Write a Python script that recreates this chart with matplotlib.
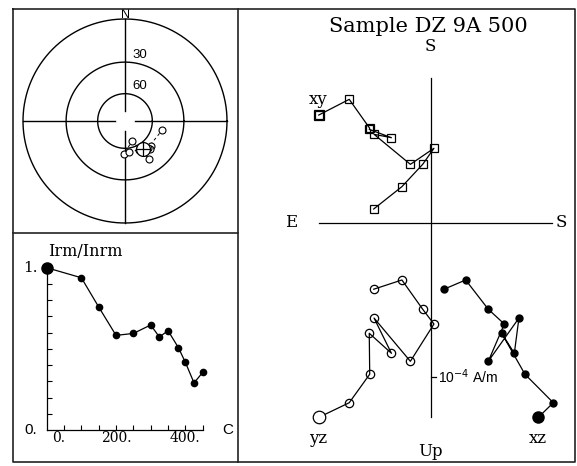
import matplotlib
matplotlib.use("Agg")
import matplotlib.pyplot as plt
import numpy as np
from matplotlib.lines import Line2D
from matplotlib.transforms import offset_copy

# demagnetisation steps (C) and normalised intensity
temps = [0, 100, 150, 200, 250, 300, 325, 350, 380, 400, 425, 450]
irm_ratio = [1.0, 0.938, 0.758, 0.583, 0.595, 0.647, 0.573, 0.612, 0.507, 0.417, 0.290, 0.355]

# vector components of the steps shown in the Zijderveld plot (units of 1e-4 A/m)
y_comp = [-0.727, -0.529, -0.396, -0.399, -0.255, -0.368, -0.132, 0.021, -0.052, -0.187, -0.370]
z_comp = [-1.264, -1.169, -0.984, -0.718, -0.848, -0.619, -0.900, -0.658, -0.562, -0.372, -0.432]
x_comp_xy = [0.699, 0.801, 0.613, 0.606, 0.552, 0.574, 0.379, 0.483, 0.379, 0.234, 0.089]
x_comp_xz = [0.699, 0.796, 0.612, 0.461, 0.543, 0.573, 0.374, 0.478, 0.374, 0.227, 0.086]

sample_name = "DZ 9A 500"
scale_label = "10$^{-4}$ A/m"

W, H = 577, 466
SERIF = ["DejaVu Serif"]
SANS = ["Liberation Sans", "DejaVu Sans"]


def px_axes(fig, x0, y0, x1, y1):
    return fig.add_axes([x0 / W, 1 - y1 / H, (x1 - x0) / W, (y1 - y0) / H])


def fig_line(fig, xs, ys):
    fig.add_artist(Line2D([x / W for x in xs], [1 - y / H for y in ys],
                          transform=fig.transFigure, color="#222222", lw=1.2))


def stereo_xy(dec, inc):
    # equal-angle (Wulff) projection
    r = np.tan(np.radians(90 - np.abs(inc)) / 2)
    return r * np.sin(np.radians(dec)), r * np.cos(np.radians(dec))


fig = plt.figure(figsize=(W / 100, H / 100), dpi=100)

# panel frames
fig_line(fig, [13, 575, 575, 13, 13], [9, 9, 462, 462, 9])
fig_line(fig, [237.5, 237.5], [9, 462])
fig_line(fig, [13, 237.5], [233, 233])

# ---- stereonet ----
ax_s = px_axes(fig, 21, 17, 229, 225)
lim = 104 / 102
ax_s.set_xlim(-lim, lim)
ax_s.set_ylim(-lim, lim)
ax_s.axis("off")
t = np.linspace(0, 2 * np.pi, 400)
for inc_ring in (0, 30, 60):
    r = np.tan(np.radians(90 - inc_ring) / 2)
    ax_s.plot(r * np.cos(t), r * np.sin(t), color="k", lw=1.0)
gap = 0.1
for a, b in ((-1, -gap), (gap, 1)):
    ax_s.plot([a, b], [0, 0], color="k", lw=1.0)
    ax_s.plot([0, 0], [a, b], color="k", lw=1.0)
ax_s.text(0, 1.04, "N", ha="center", va="center", fontsize=9, family=SANS)
ax_s.text(0.07, 0.585, "30", ha="left", va="bottom", fontsize=9.5, family=SANS)
ax_s.text(0.07, 0.28, "60", ha="left", va="bottom", fontsize=9.5, family=SANS)

north = -np.array(x_comp_xz)
east = -np.array(y_comp)
down = np.array(z_comp)
hor = np.hypot(north, east)
dec = np.degrees(np.arctan2(east, north)) % 360
inc = np.degrees(np.arctan2(down, hor))
sx, sy = stereo_xy(dec, inc)
ax_s.plot(sx, sy, color="k", lw=0.7, ls=(0, (3, 3)))
ax_s.plot(sx, sy, "o", ms=5, mfc="white", mec="k", mew=0.8, ls="none")

# Fisher mean direction
vecs = np.column_stack([north, east, down])
units = vecs / np.linalg.norm(vecs, axis=1)[:, None]
mean = units.sum(axis=0)
mean /= np.linalg.norm(mean)
m_dec = np.degrees(np.arctan2(mean[1], mean[0]))
m_inc = np.degrees(np.arcsin(mean[2]))
mx, my = stereo_xy(m_dec, m_inc)
ax_s.plot(mx, my, "o", ms=10, mfc="white", mec="k", mew=0.9, zorder=4)
ax_s.plot(mx, my, "+", ms=10, mew=0.9, color="k", zorder=5)

# ---- intensity decay ----
ax_i = px_axes(fig, 46.7, 267.7, 202.7, 430)
ax_i.set_xlim(0, 450)
ax_i.set_ylim(0, 1)
for side in ("top", "right"):
    ax_i.spines[side].set_visible(False)
for side in ("left", "bottom"):
    ax_i.spines[side].set_linewidth(0.9)
ax_i.set_xticks(np.arange(50, 451, 50))
ax_i.set_yticks(np.arange(0.1, 1.01, 0.1))
ax_i.tick_params(direction="in", length=3.5, width=0.8, labelbottom=False, labelleft=False)
ax_i.plot(temps, irm_ratio, color="k", lw=0.9, marker="o", ms=4.5, clip_on=False)
ax_i.plot(temps[0], irm_ratio[0], "o", color="k", ms=8, clip_on=False)
xlab_tr = ax_i.get_xaxis_transform()
for val, txt in ((0, "0."), (200, "200."), (400, "400.")):
    tr = xlab_tr
    if val == 0:
        tr = offset_copy(xlab_tr, fig=fig, x=12, y=0, units="dots")
    ax_i.text(val, -0.05, txt, transform=tr, ha="center", va="center",
              fontsize=10, family=SERIF)
ylab_tr = ax_i.get_yaxis_transform()
ax_i.text(-0.06, 1.0, "1.", transform=ylab_tr, ha="right", va="center",
          fontsize=11, family=SERIF)
ax_i.text(-0.06, 0.0, "0.", transform=ylab_tr, ha="right", va="center",
          fontsize=11, family=SANS)
ax_i.text(1.16, 0.0, "C", transform=ax_i.transAxes, ha="center", va="center",
          fontsize=11, family=SANS)
ax_i.text(0.01, 1.1, "Irm/Inrm", transform=ax_i.transAxes, ha="left", va="center",
          fontsize=11.5, family=SERIF)

# ---- Zijderveld diagram ----
ORIGIN = (430.7, 222.7)
UNIT = 154.0
x0, y0, x1, y1 = 245, 12, 572, 460
ax_z = px_axes(fig, x0, y0, x1, y1)
ax_z.set_xlim((x0 - ORIGIN[0]) / UNIT, (x1 - ORIGIN[0]) / UNIT)
ax_z.set_ylim((ORIGIN[1] - y1) / UNIT, (ORIGIN[1] - y0) / UNIT)
ax_z.axis("off")
ax_z.plot([-0.725, 0.786], [0, 0], color="k", lw=0.9)
ax_z.plot([0, 0], [0.942, -1.26], color="k", lw=0.9)
ax_z.plot([0, 0.032], [-1, -1], color="k", lw=0.9)
ax_z.text(0.05, -1, scale_label, ha="left", va="center", fontsize=10, family=SANS)

# xy: open squares, yz: open circles, xz: filled circles; first step drawn larger
ax_z.plot(y_comp, x_comp_xy, color="k", lw=0.9, marker="s", ms=6, mfc="none",
          mec="k", mew=0.9)
ax_z.plot(y_comp[0], x_comp_xy[0], "s", ms=7, mfc="none", mec="k", mew=0.9)
ax_z.plot(y_comp, z_comp, color="k", lw=0.9, marker="o", ms=6, mfc="none",
          mec="k", mew=0.9)
ax_z.plot(y_comp[0], z_comp[0], "o", ms=9, mfc="white", mec="k", mew=0.9)
ax_z.plot(x_comp_xz, z_comp, color="k", lw=0.9, marker="o", ms=5)
ax_z.plot(x_comp_xz[0], z_comp[0], "o", color="k", ms=8)

lbl = dict(ha="center", va="center", fontsize=12, family=SERIF)
ax_z.text(-0.909, 0, "E", **lbl)
ax_z.text(0.851, 0, "S", **lbl)
ax_z.text(0, 1.143, "S", **lbl)
ax_z.text(0, -1.487, "Up", **lbl)
ax_z.text(-0.731, 0.80, "xy", **lbl)
ax_z.text(-0.731, -1.403, "yz", **lbl)
ax_z.text(0.695, -1.403, "xz", **lbl)

fig.text(428 / W, 1 - 27 / H, "Sample " + sample_name, ha="center", va="center",
         fontsize=15, family=SERIF)

fig.savefig("out.png", dpi=100)
